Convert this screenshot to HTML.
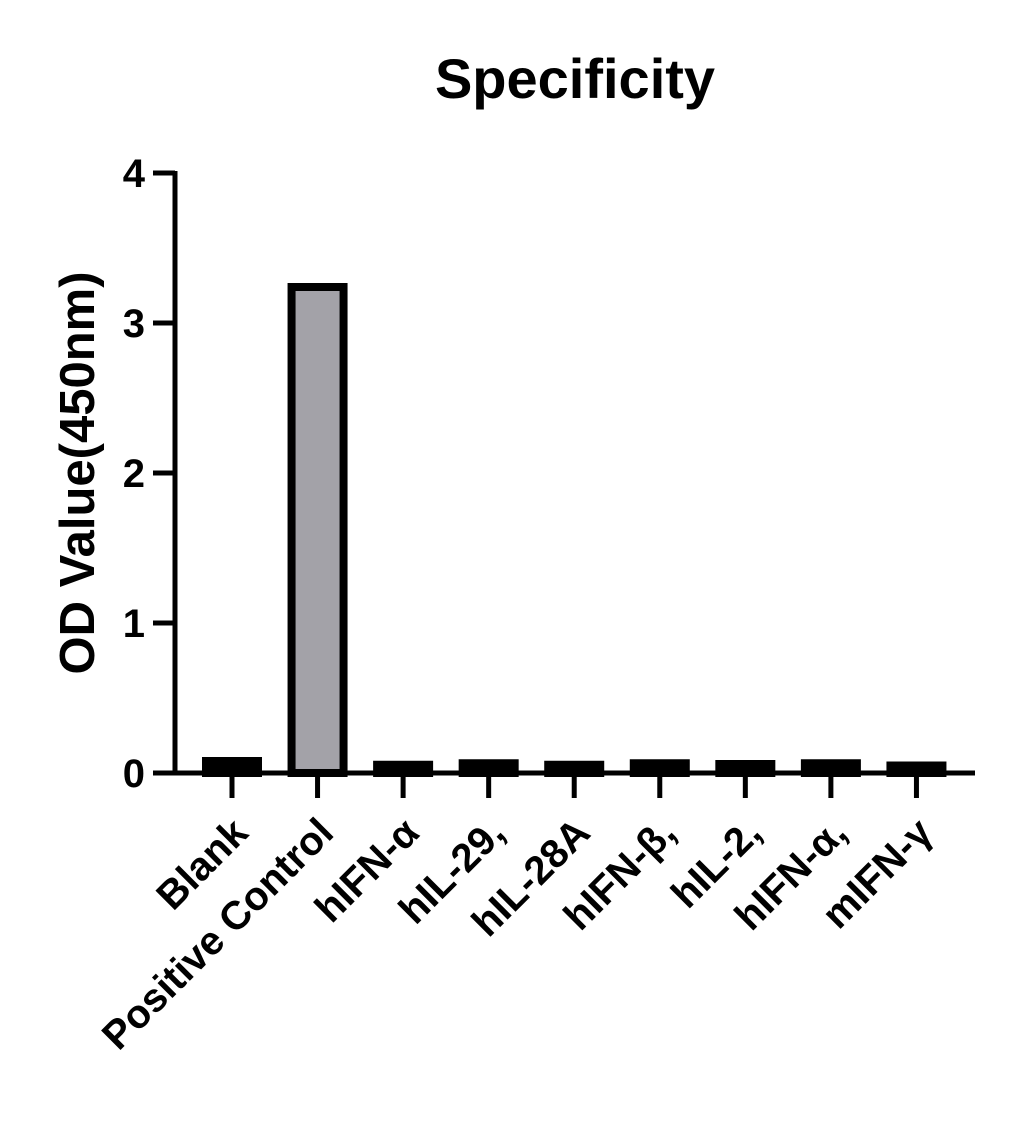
<!DOCTYPE html>
<html><head><meta charset="utf-8"><style>body{margin:0;background:#fff}svg{display:block}text{font-family:"Liberation Sans",Arial,sans-serif;font-weight:bold;fill:#000}</style></head>
<body>
<svg id="chart" width="1025" height="1136" viewBox="0 0 1025 1136" xmlns="http://www.w3.org/2000/svg">
<text x="575" y="98" font-size="56" text-anchor="middle">Specificity</text>
<text transform="translate(94,473) rotate(-90)" font-size="49" text-anchor="middle">OD Value(450nm)</text>
<g id="bars"></g>
<g id="axes"></g>
</svg>
<script>
const categories = ["Blank","Positive Control","hIFN-α","hIL-29,","hIL-28A","hIFN-β,","hIL-2,","hIFN-α,","mIFN-γ"];
const values = [0.08,3.24,0.055,0.065,0.055,0.065,0.06,0.065,0.05];
const yTicks = [0,1,2,3,4];
const NS="http://www.w3.org/2000/svg";
const x0=175,x1=975,y0=773,yTop=173,yMax=4;
const y=v=>y0-(v/yMax)*(y0-yTop);
const step=(x1-x0-30)/categories.length;
const xc=i=>x0+57+i*step;
const bars=document.getElementById('bars'),axes=document.getElementById('axes');
function mk(t,a,p){const e=document.createElementNS(NS,t);for(const k in a)e.setAttribute(k,a[k]);p.appendChild(e);return e;}
values.forEach((v,i)=>{
  const bw=52,top=y(v);
  const r=mk('rect',{x:xc(i)-bw/2,y:top,width:bw,height:Math.max(0,y0-top),fill:i===1?'#a3a2a8':'#000',stroke:'#000','stroke-width':8},bars);
  
  
  const t=mk('line',{x1:xc(i),x2:xc(i),y1:y0,y2:y0+25,stroke:'#000','stroke-width':5},axes);
  
  
  const l=mk('text',{transform:`translate(${xc(i)+18},${y0+62}) rotate(-45)`,'font-size':40,'text-anchor':'end'},axes);
  l.textContent=categories[i];
  
  
});
const ya=mk('line',{x1:x0,x2:x0,y1:yTop-2,y2:y0+2,stroke:'#000','stroke-width':5},axes);


const xa=mk('line',{x1:x0-2,x2:x1,y1:y0,y2:y0,stroke:'#000','stroke-width':5},axes);


yTicks.forEach(v=>{
  const t=mk('line',{x1:x0-22,x2:x0,y1:y(v),y2:y(v),stroke:'#000','stroke-width':5},axes);
  
  
  const l=mk('text',{x:x0-30,y:y(v)+14,'font-size':40,'text-anchor':'end'},axes);
  l.textContent=v;
  
  
});
</script>
</body></html>
